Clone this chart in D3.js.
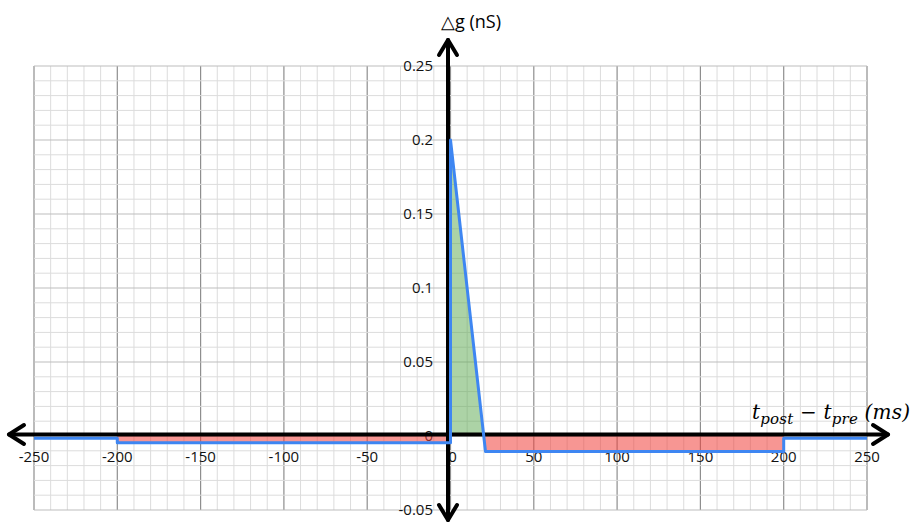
<!DOCTYPE html>
<html>
<head>
<meta charset="utf-8">
<script src="https://cdn.jsdelivr.net/npm/d3@7"></script>
<style>
  body { margin: 0; background: #fff; }
  text { font-family: "Open Sans", "Liberation Sans", sans-serif; }
  text.math { font-family: "DejaVu Serif", "Liberation Serif", serif; font-style: italic; }
</style>
</head>
<body>
<script>
// STDP window: weight change vs spike timing difference

var xTicks = [-250, -200, -150, -100, -50, 0, 50, 100, 150, 200, 250];
var yTicks = [-0.05, 0, 0.05, 0.1, 0.15, 0.2, 0.25];
var yLabels = ["-0.05", "0", "0.05", "0.1", "0.15", "0.2", "0.25"];

// blue curve (ms, nS)
var curveX = [-250, -200, -200, 0, 0, 21, 200, 200, 250];
var curveY = [-0.0016, -0.0016, -0.0045, -0.0045, 0.2, -0.0105, -0.0105, -0.0015, -0.0015];

// shaded areas
var ltpX = [0, 20], ltpY = [0.2, 0];
var ltdLeftX = [-200, 0], ltdLeftY = [-0.0045, -0.0045];
var ltdRightX = [20, 21, 200], ltdRightY = [0, -0.0105, -0.0105];

var width = 915, height = 526;

var svg = d3.select("body").append("svg")
    .attr("width", width)
    .attr("height", height);

var x = d3.scaleLinear().domain([-250, 250]).range([34, 867]);
var y = d3.scaleLinear().domain([-0.05, 0.25]).range([510, 66]);

// grid
var grid = svg.append("g");
grid.selectAll(".minx")
  .data(d3.range(-250, 251, 10))
  .enter().append("line")
    .attr("x1", function(d) { return x(d); })
    .attr("x2", function(d) { return x(d); })
    .attr("y1", y(0.25)).attr("y2", y(-0.05))
    .attr("stroke", function(d) { return d % 50 === 0 ? "#8e8e8e" : "#dcdcdc"; })
    .attr("stroke-width", function(d) { return d % 50 === 0 ? 1.2 : 1; });
grid.selectAll(".miny")
  .data(d3.range(-5, 26, 1))
  .enter().append("line")
    .attr("x1", x(-250)).attr("x2", x(250))
    .attr("y1", function(d) { return y(d / 100); })
    .attr("y2", function(d) { return y(d / 100); })
    .attr("stroke", function(d) { return d % 5 === 0 ? "#bdbdbd" : "#dcdcdc"; })
    .attr("stroke-width", 1);

// tick labels
svg.selectAll(".yl")
  .data(yTicks)
  .enter().append("text")
    .attr("x", 433)
    .attr("y", function(d) { return y(d); })
    .attr("dy", "0.35em")
    .attr("text-anchor", "end")
    .attr("font-size", 15)
    .attr("fill", "#111")
    .text(function(d, i) { return yLabels[i]; });

svg.selectAll(".xl")
  .data(xTicks)
  .enter().append("text")
    .attr("x", function(d) { return d === 0 ? x(d) + 2 : x(d); })
    .attr("y", y(0) + 26)
    .attr("text-anchor", "middle")
    .attr("font-size", 15)
    .attr("fill", "#111")
    .text(function(d) { return d; });

// fills
var area = function(xs, ys) {
  return d3.area()
    .x(function(d, i) { return x(xs[i]); })
    .y0(y(0))
    .y1(function(d, i) { return y(ys[i]); })(xs);
};
svg.append("path").attr("d", area(ltpX, ltpY))
  .attr("fill", "#5aa84e").attr("fill-opacity", 0.5);
svg.append("path").attr("d", area(ltdLeftX, ltdLeftY))
  .attr("fill", "#f0403a").attr("fill-opacity", 0.55);
svg.append("path").attr("d", area(ltdRightX, ltdRightY))
  .attr("fill", "#f0403a").attr("fill-opacity", 0.55);

// axes with arrows
var axisG = svg.append("g").attr("stroke", "#000").attr("fill", "none")
    .attr("stroke-width", 4).attr("stroke-linecap", "round").attr("stroke-linejoin", "round");
axisG.append("line").attr("x1", 9).attr("x2", 888).attr("y1", y(0) - 1.5).attr("y2", y(0) - 1.5);
axisG.append("path").attr("d", "M24," + (y(0) - 11) + " L9," + (y(0) - 1.5) + " L24," + (y(0) + 8));
axisG.append("path").attr("d", "M873," + (y(0) - 11) + " L888," + (y(0) - 1.5) + " L873," + (y(0) + 8));
axisG.append("line").attr("x1", 448).attr("x2", 448).attr("y1", 40).attr("y2", 520);
axisG.append("path").attr("d", "M439,55 L448,40 L457,55");
axisG.append("path").attr("d", "M439,505 L448,520 L457,505");

// blue curve
var line = d3.line()
  .x(function(d, i) { return x(curveX[i]); })
  .y(function(d, i) { return y(curveY[i]); });
svg.append("path").attr("d", line(curveX))
  .attr("fill", "none")
  .attr("stroke", "#3e86f2")
  .attr("stroke-width", 3)
  .attr("stroke-linejoin", "round");

// titles
svg.append("text")
  .attr("x", 441).attr("y", 28)
  .attr("font-size", 18)
  .text("\u25B3g (nS)");

var xt = svg.append("text")
  .attr("class", "math")
  .attr("x", 752).attr("y", 419)
  .attr("font-size", 20)
  .attr("textLength", 158);
xt.append("tspan").text("t");
xt.append("tspan").attr("font-size", 15).attr("dy", 5).text("post");
xt.append("tspan").attr("dy", -5).attr("font-style", "normal").text(" \u2212 ");
xt.append("tspan").text("t");
xt.append("tspan").attr("font-size", 15).attr("dy", 5).text("pre");
xt.append("tspan").attr("dy", -5).text(" (ms)");
</script>
</body>
</html>
